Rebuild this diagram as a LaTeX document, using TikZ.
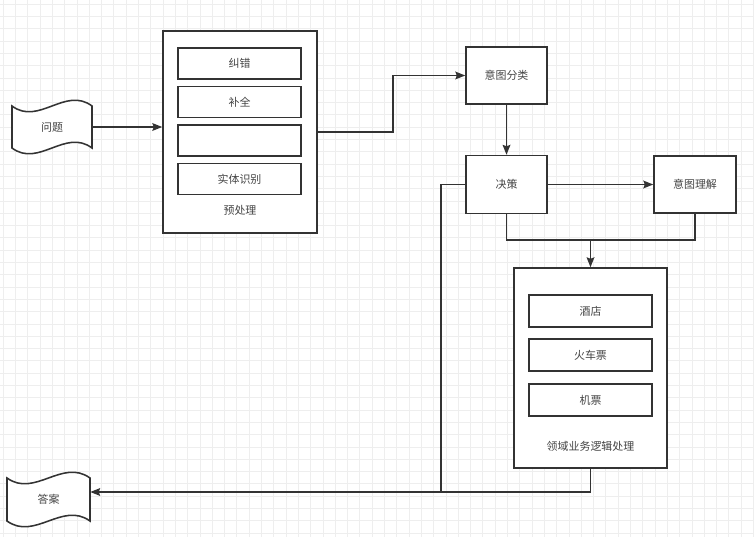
\documentclass[tikz,border=0pt]{standalone}
\usepackage{fontspec}
\setmainfont{Noto Sans CJK SC}
\usetikzlibrary{arrows.meta}
\definecolor{linegray}{HTML}{333333}
\definecolor{textgray}{HTML}{444444}
\definecolor{gridgray}{HTML}{EEEEEE}

\begin{document}
\begin{tikzpicture}[x=0.025cm,y=-0.025cm,font=\fontsize{7.8}{9}\selectfont,text=textgray]
                    \tikzstyle{gridline}=[gridgray,line width=0.4pt]
                    \tikzstyle{outer}=[draw=linegray,fill=white,line width=1.1pt,inner sep=0pt]
                    \tikzstyle{box}=[outer,minimum width=3.075cm,minimum height=0.775cm]
                    \tikzstyle{tape}=[draw=linegray,fill=white,line width=1.1pt]
                    \tikzstyle{link}=[linegray,line width=1pt]
                    \tikzstyle{arr}=[link,-{Stealth[length=7pt,width=5.5pt,inset=1pt]}]
                    \useasboundingbox (0,0) rectangle (754,537);
                    \fill[white] (0,0) rectangle (754,537);
                    \foreach \gx in {3,15.3,...,754} \draw[gridline] (\gx,0) -- (\gx,537);
                    \foreach \gy in {4,16.3,...,537} \draw[gridline] (0,\gy) -- (754,\gy);

                    \draw[tape] (12,106) .. controls +(26.7,20) and +(-26.7,-20) .. (92,106)
                    -- (92,148) .. controls +(-26.7,-20) and +(26.7,20) .. (12,148) -- cycle;
                    \node[minimum width=2cm,minimum height=1.05cm,inner sep=0pt] (q) at (52,127) {问题};
                    \draw[tape] (7,478) .. controls +(27.7,20) and +(-27.7,-20) .. (90,478)
                    -- (90,521) .. controls +(-27.7,-20) and +(27.7,20) .. (7,521) -- cycle;
                    \node[minimum width=2.075cm,minimum height=1.075cm,inner sep=0pt] (ans) at (48.5,499.5) {答案};

                    \node[outer,minimum width=3.85cm,minimum height=5.05cm] (pre) at (240,132) {};
                    \node[box] (jiucuo) at (239.5,63.5) {纠错};
                    \node[box] (buquan) at (239.5,102) {补全};
                    \node[box] (mid) at (239.5,140.5) {};
                    \node[box] (shiti) at (239.5,179) {实体识别};
                    \node (prelab) at (240,210) {预处理};

                    \node[outer,minimum width=2.025cm,minimum height=1.425cm] (cls) at (506.5,75.5) {意图分类};
                    \node[outer,minimum width=2.025cm,minimum height=1.45cm] (dec) at (506.5,184.5) {决策};
                    \node[outer,minimum width=2.05cm,minimum height=1.425cm] (und) at (695,184.5) {意图理解};

                    \node[outer,minimum width=3.825cm,minimum height=5cm] (dom) at (590.5,368) {};
                    \node[box,minimum height=0.8cm] (hotel) at (590.5,311) {酒店};
                    \node[box,minimum height=0.8cm] (train) at (590.5,355) {火车票};
                    \node[box,minimum height=0.8cm] (plane) at (590.5,400) {机票};
                    \node (domlab) at (590.5,446) {领域业务逻辑处理};

                    \coordinate (merge) at (590.5,240);
                    \coordinate (back) at (441,492);
                    \draw[arr] (q.east) -- (q.east -| pre.west);
                    \draw[arr] (pre.east) -- ++(75,0) |- (cls.west);
                    \draw[arr] (cls) -- (dec);
                    \draw[arr] (dec) -- (und);
                    \draw[link] (dec.south) |- (merge) -| (und.south);
                    \draw[arr] (merge) -- (dom.north);
                    \draw[arr] (dec.west) -| (back) -- (back -| ans.east);
                    \draw[link] (dom.south) |- (back);
                \end{tikzpicture}
\end{document}
